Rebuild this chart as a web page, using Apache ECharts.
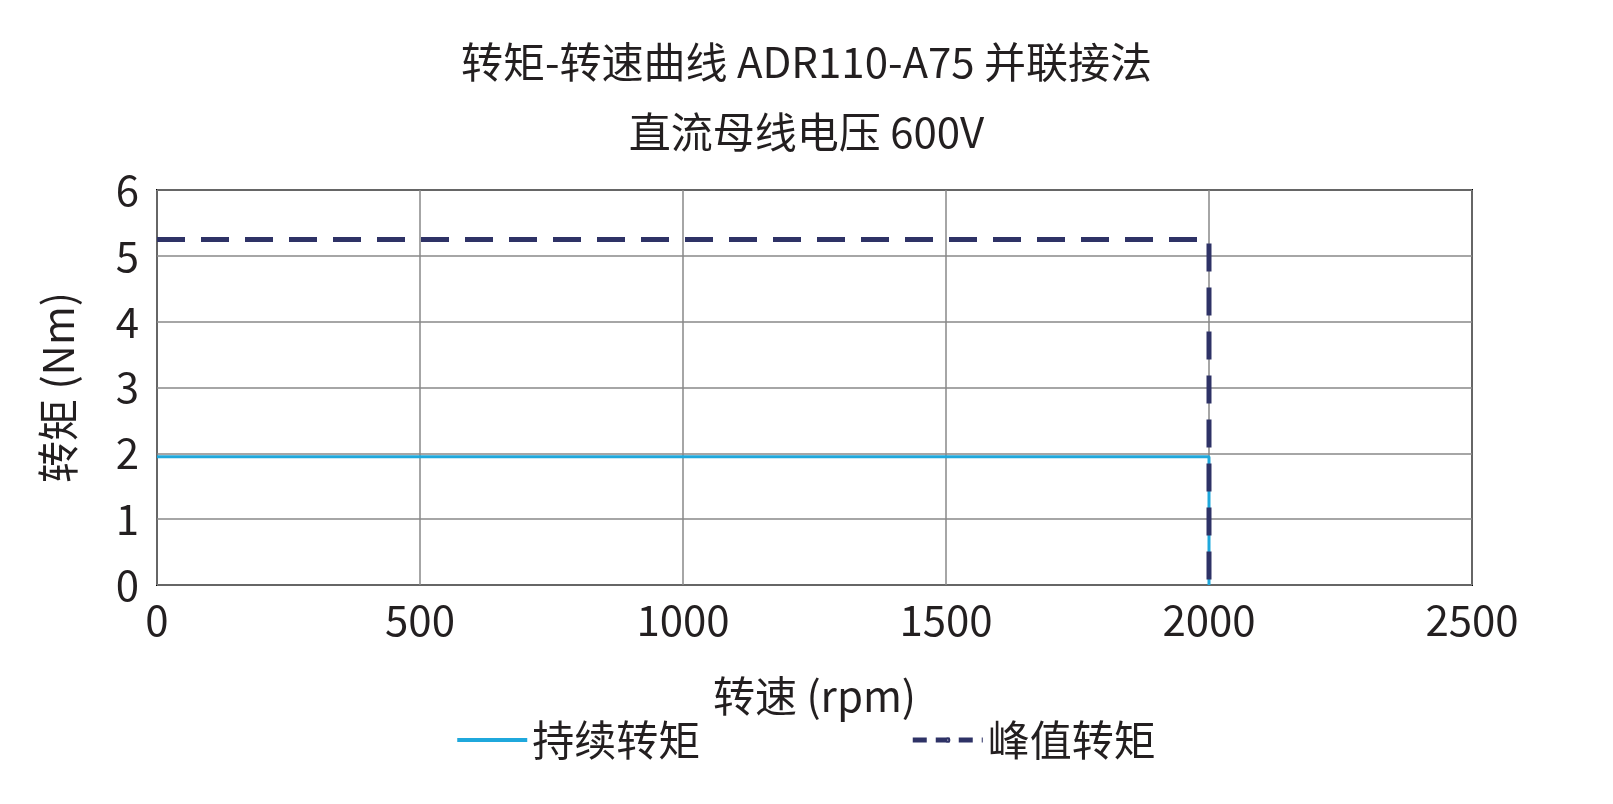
<!DOCTYPE html>
<html><head><meta charset="utf-8">
<script src="https://cdn.jsdelivr.net/npm/echarts@6/dist/echarts.min.js"></script>
<style>html,body{margin:0;background:#fff}#c{width:1613px;height:804px}</style>
</head><body><div id="c"></div>
<script>
const titleLines = ['转矩-转速曲线 ADR110-A75 并联接法', '直流母线电压 600V'];
const xName = '转速 (rpm)';
const yName = '转矩 (Nm)';
const continuousName = '持续转矩';
const peakName = '峰值转矩';
const continuousData = [[0, 1.95], [2000, 1.95], [2000, 0]];
const peakData = [[0, 5.25], [2000, 5.25], [2000, 0]];
const F = 'Noto Sans CJK SC';
const C = '#231f20';
const chart = echarts.init(document.getElementById('c'));
chart.setOption({
  animation: false,
  textStyle: {fontFamily: F, color: C},
  title: {text: titleLines.join('\n'), left: 'center', top: 22,
    textStyle: {fontFamily: F, fontSize: 42, fontWeight: 'normal', color: C, lineHeight: 70}},
  grid: {left: 157, right: 141, top: 190, bottom: 219, show: true, borderColor: '#000', borderWidth: 2},
  legend: {bottom: 38, itemGap: 210, itemWidth: 70, itemHeight: 4,
    textStyle: {fontFamily: F, fontSize: 42, color: C},
    data: [{name: continuousName, icon: 'rect'},
           {name: peakName, lineStyle: {type: [14, 9], width: 5}}]},
  xAxis: {type: 'value', min: 0, max: 2500, interval: 500, name: xName, nameLocation: 'middle', nameGap: 90,
    nameTextStyle: {fontSize: 42, color: C},
    axisLabel: {fontSize: 42, color: C, margin: 14, formatter: v => String(v)},
    axisLine: {show: false}, axisTick: {show: false},
    splitLine: {lineStyle: {color: '#888', width: 1.5}}},
  yAxis: {type: 'value', min: 0, max: 6, interval: 1, name: yName, nameLocation: 'middle', nameGap: 78,
    nameTextStyle: {fontSize: 42, color: C},
    axisLabel: {fontSize: 42, color: C, margin: 18},
    axisLine: {show: false}, axisTick: {show: false},
    splitLine: {lineStyle: {color: '#888', width: 1.5}}},
  series: [
    {name: continuousName, type: 'line', data: continuousData, showSymbol: false, color: '#1fa8dc',
     lineStyle: {width: 3, color: '#1fa8dc'}},
    {name: peakName, type: 'line', data: peakData, showSymbol: false, color: '#2e3266',
     lineStyle: {width: 5, color: '#2e3266', type: [28, 16]}}
  ]
});
</script></body></html>
